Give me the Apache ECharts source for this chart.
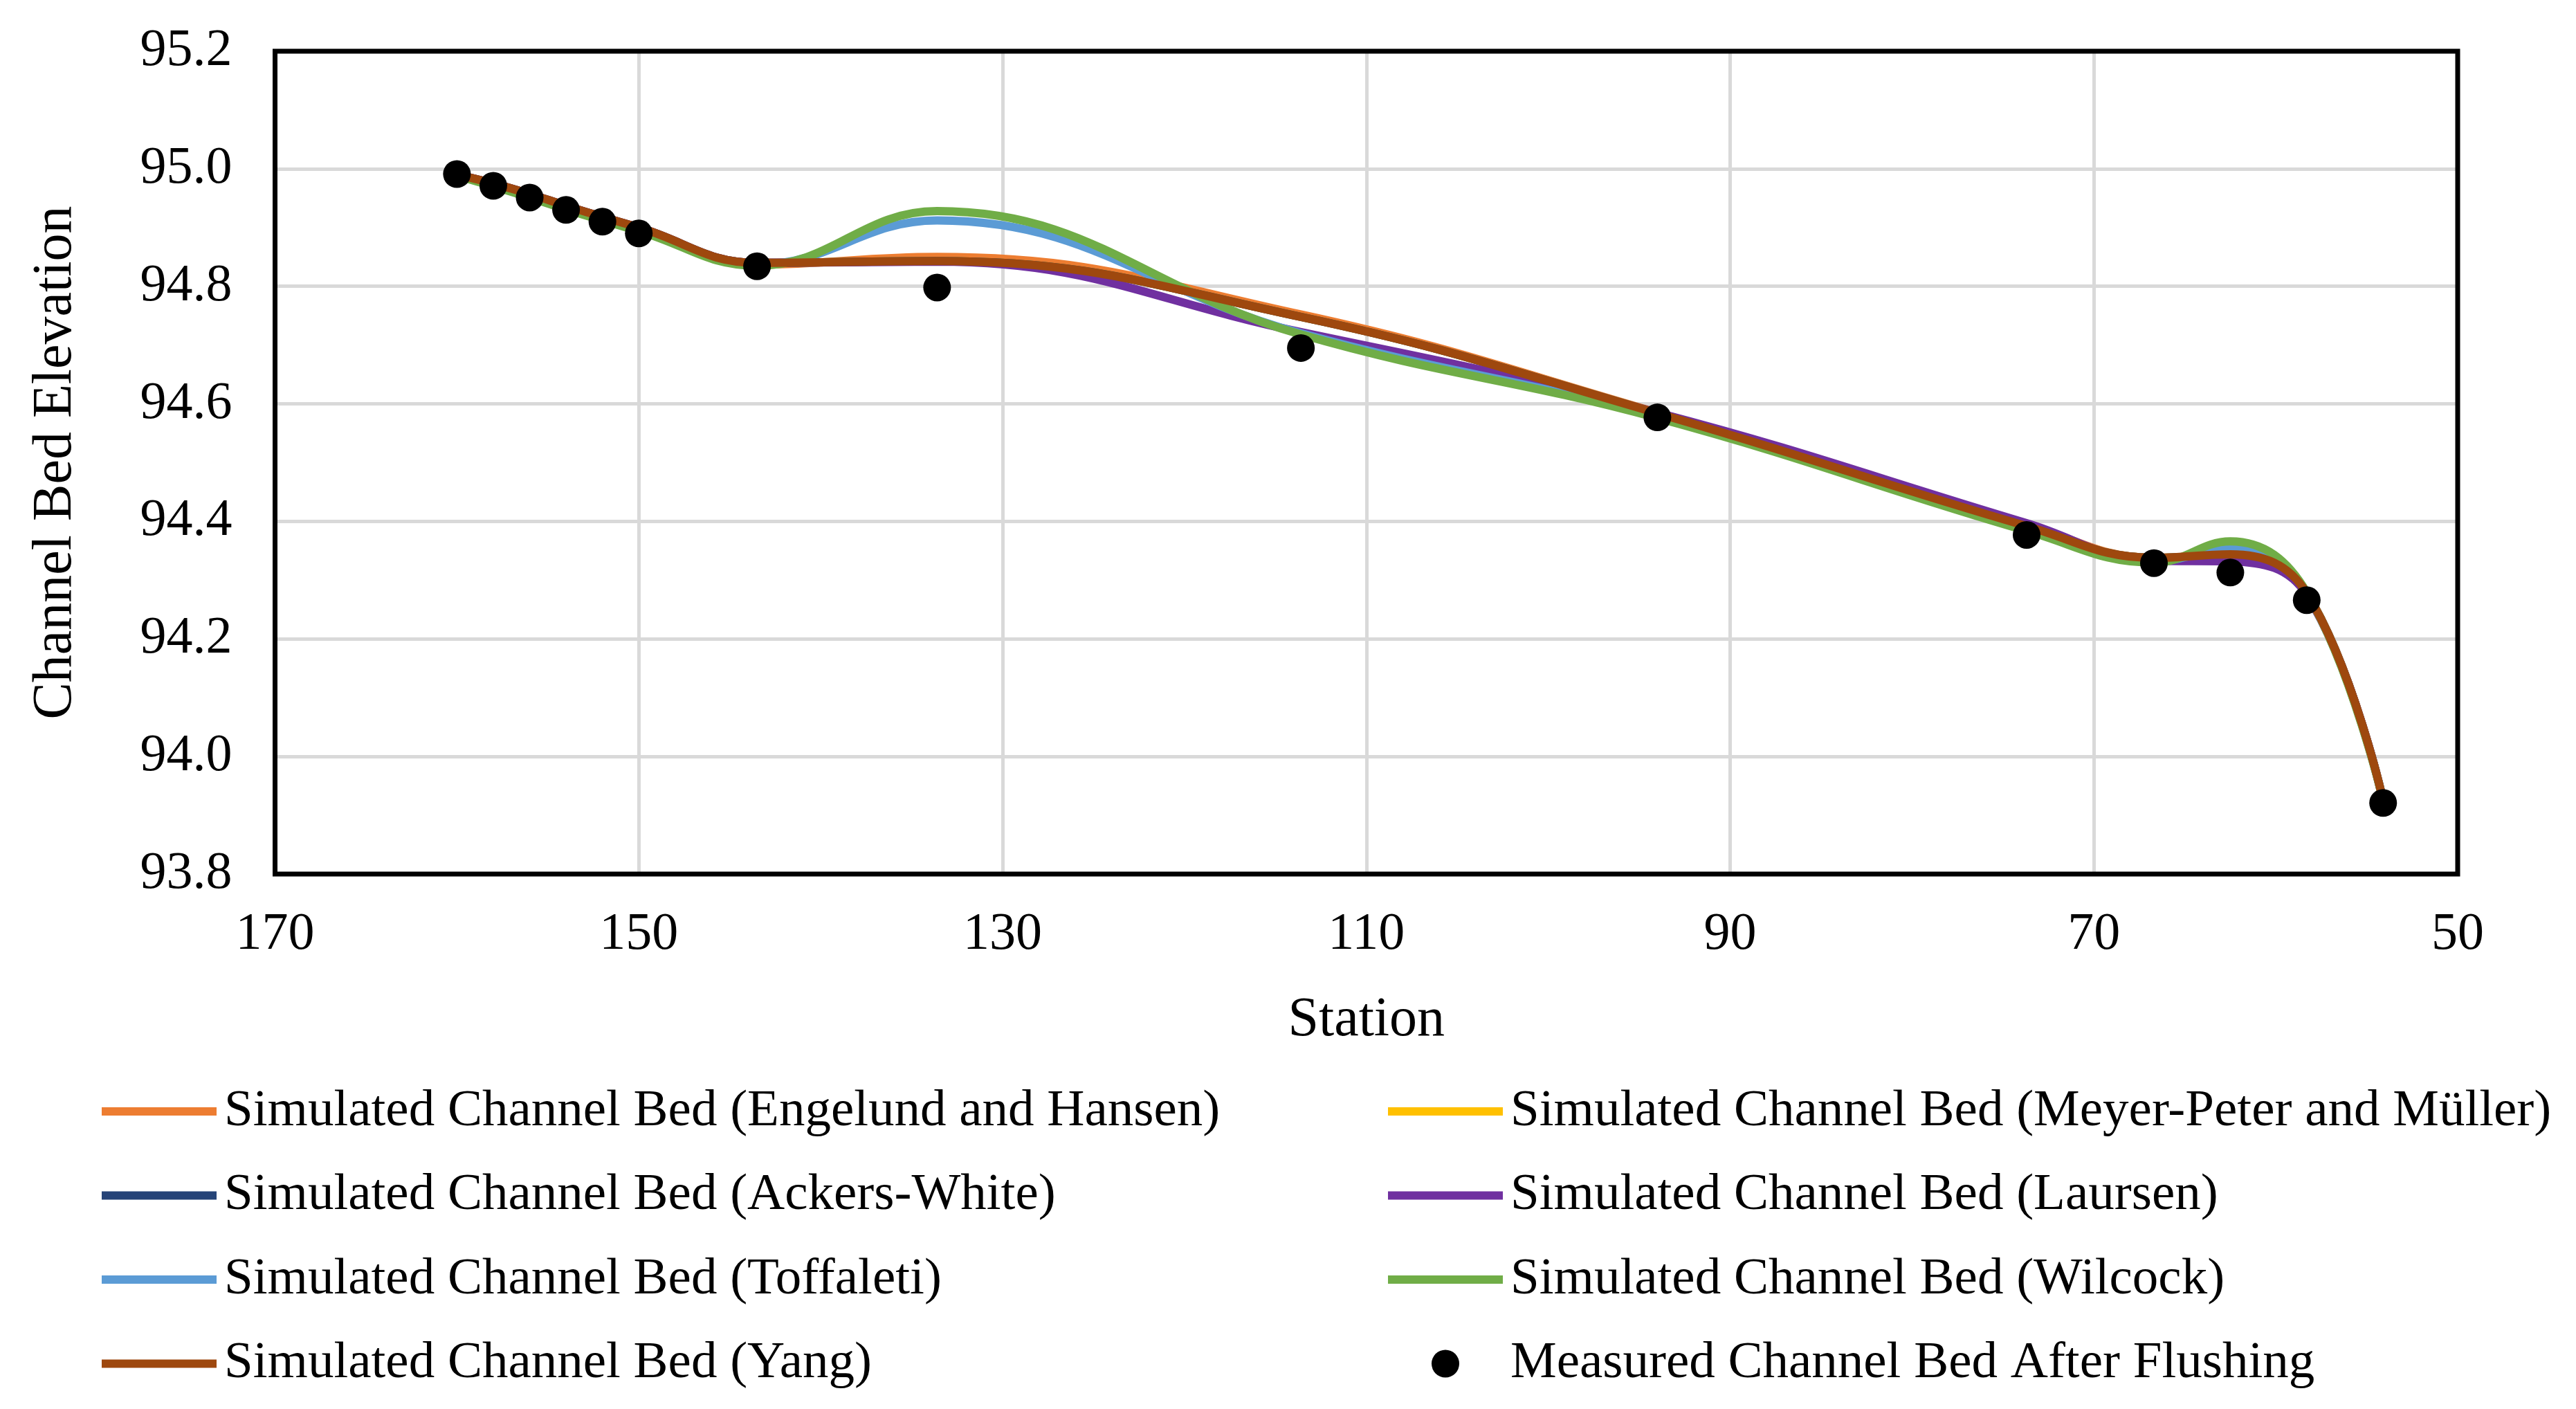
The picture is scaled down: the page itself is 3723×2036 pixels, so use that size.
<!DOCTYPE html>
<html>
<head>
<meta charset="utf-8">
<script src="https://cdn.jsdelivr.net/npm/echarts@6/dist/echarts.min.js"></script>
<style>html,body{margin:0;padding:0;background:#fff;}#chart{width:3723px;height:2036px;}</style>
</head>
<body>
<div id="chart"></div>
<script>
// Stations (cross sections)
const stations = [160, 158, 156, 154, 152, 150, 143.5, 133.6, 113.6, 94.0, 73.7, 66.7, 62.5, 58.3, 54.1];
// Simulated channel bed elevations
const engelundHansen = [94.990, 94.975, 94.957, 94.937, 94.918, 94.900, 94.837, 94.850, 94.752, 94.585, 94.395, 94.338, 94.343, 94.278, 93.925];
const meyerPeterMuller = [94.990, 94.975, 94.957, 94.937, 94.918, 94.900, 94.840, 94.843, 94.748, 94.584, 94.392, 94.338, 94.343, 94.278, 93.925];
const ackersWhite = [94.990, 94.975, 94.957, 94.937, 94.918, 94.900, 94.840, 94.843, 94.748, 94.584, 94.392, 94.338, 94.343, 94.278, 93.925];
const laursen = [94.990, 94.975, 94.957, 94.937, 94.918, 94.900, 94.840, 94.842, 94.722, 94.585, 94.397, 94.333, 94.332, 94.275, 93.925];
const toffaleti = [94.989, 94.972, 94.953, 94.933, 94.914, 94.896, 94.837, 94.912, 94.720, 94.578, 94.386, 94.332, 94.354, 94.278, 93.925];
const wilcock = [94.988, 94.970, 94.951, 94.931, 94.912, 94.894, 94.835, 94.928, 94.718, 94.576, 94.384, 94.330, 94.366, 94.279, 93.925];
const yang = [94.990, 94.975, 94.957, 94.937, 94.918, 94.900, 94.840, 94.843, 94.748, 94.584, 94.392, 94.338, 94.344, 94.278, 93.925];
// Measured
const measuredStations = [160, 158, 156, 154, 152, 150, 143.5, 133.6, 113.6, 94.0, 73.7, 66.7, 62.5, 58.3, 54.1];
const measured = [94.991, 94.971, 94.951, 94.930, 94.910, 94.890, 94.834, 94.798, 94.695, 94.577, 94.377, 94.329, 94.313, 94.266, 93.921];

const names = [
  'Simulated Channel Bed (Engelund and Hansen)',
  'Simulated Channel Bed (Meyer-Peter and Müller)',
  'Simulated Channel Bed (Ackers-White)',
  'Simulated Channel Bed (Laursen)',
  'Simulated Channel Bed (Toffaleti)',
  'Simulated Channel Bed (Wilcock)',
  'Simulated Channel Bed (Yang)'
];
const measuredName = 'Measured Channel Bed After Flushing';
const colors = ['#ED7D31', '#FFC000', '#264478', '#7030A0', '#5B9BD5', '#70AD47', '#9E480E'];
const simData = [engelundHansen, meyerPeterMuller, ackersWhite, laursen, toffaleti, wilcock, yang];

const FONT = "'Liberation Serif', 'Times New Roman', serif";
const pair = (xs, ys) => xs.map((x, i) => [x, ys[i]]);

const series = simData.map((arr, i) => ({
  name: names[i],
  type: 'line',
  data: pair(stations, arr),
  symbol: 'none',
  smooth: 0.42,
  lineStyle: { color: colors[i], width: 12 },
  itemStyle: { color: colors[i] },
  z: 2 + i
}));
series.push({
  name: measuredName,
  type: 'scatter',
  data: pair(measuredStations, measured),
  symbol: 'circle',
  symbolSize: 40,
  itemStyle: { color: '#000', opacity: 1 },
  z: 20
});

const lineItem = n => ({ name: n, itemStyle: { opacity: 0 } });
const legendText = { fontSize: 75, lineHeight: 80, fontFamily: FONT, color: '#000', padding: [0, 0, 0, 6] };
const legendBase = { orient: 'vertical', top: 1566, padding: 0, itemWidth: 166, itemHeight: 40, itemGap: 41.5, textStyle: legendText, lineStyle: { width: 12 } };
const chart = echarts.init(document.getElementById('chart'));
chart.setOption({
  backgroundColor: '#fff',
  animation: false,
  color: colors.concat(['#000']),
  grid: { left: 397.5, right: 171, top: 74, bottom: 773, show: true, borderColor: '#000', borderWidth: 7, backgroundColor: 'transparent', containLabel: false, z: 5 },
  xAxis: {
    type: 'value', min: 50, max: 170, interval: 20, inverse: true,
    name: 'Station', nameLocation: 'middle', nameGap: 172,
    nameTextStyle: { fontSize: 80, fontFamily: FONT, color: '#000' },
    axisLine: { show: false }, axisTick: { show: false },
    axisLabel: { fontSize: 76, fontFamily: FONT, color: '#000', margin: 50 },
    splitLine: { show: true, showMinLine: false, showMaxLine: false, lineStyle: { color: '#D9D9D9', width: 5 } }
  },
  yAxis: {
    type: 'value', min: 93.8, max: 95.2, interval: 0.2,
    name: 'Channel Bed Elevation', nameLocation: 'middle', nameGap: 277,
    nameTextStyle: { fontSize: 80, fontFamily: FONT, color: '#000' },
    axisLine: { show: false }, axisTick: { show: false },
    axisLabel: { fontSize: 76, fontFamily: FONT, color: '#000', margin: 62, formatter: v => v.toFixed(1) },
    splitLine: { show: true, showMinLine: false, showMaxLine: false, lineStyle: { color: '#D9D9D9', width: 5 } }
  },
  legend: [
    Object.assign({}, legendBase, {
      left: 141,
      data: [lineItem(names[0]), lineItem(names[2]), lineItem(names[4]), lineItem(names[6])]
    }),
    Object.assign({}, legendBase, {
      left: 2000,
      data: [lineItem(names[1]), lineItem(names[3]), lineItem(names[5]), { name: measuredName }]
    })
  ],
  series: series
});
</script>
</body>
</html>
